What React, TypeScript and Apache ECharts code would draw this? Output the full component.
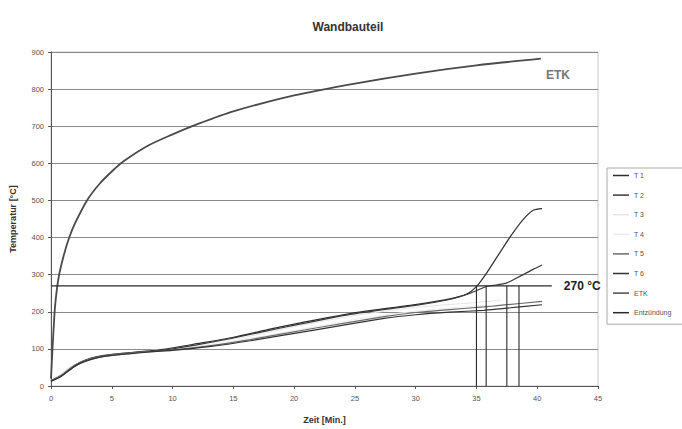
import React, { useEffect, useRef } from "react";
import * as echarts from "echarts";

const xTicks = [0, 5, 10, 15, 20, 25, 30, 35, 40, 45];
const yTicks = [0, 100, 200, 300, 400, 500, 600, 700, 800, 900];

const seriesNames = ["T 1", "T 2", "T 3", "T 4", "T 5", "T 6", "ETK", "Entzündung"];

const t1: number[][] = [
  [0, 14], [0.8, 27], [1.9, 54], [2.7, 68], [3.8, 79], [5.2, 86], [6.6, 90], [8.2, 95],
  [9.3, 99], [12, 114], [14.8, 130], [19, 160], [24.6, 195], [30.1, 220], [32.8, 235],
  [34.2, 248], [35, 268], [35.85, 305], [36.9, 358], [37.8, 403], [38.8, 447], [39.7, 474], [40.4, 478],
];
const t2: number[][] = [
  [0, 13], [0.8, 26], [1.9, 52], [2.7, 66], [3.8, 77], [5.2, 84], [6.6, 89], [8.2, 94],
  [9.3, 97], [12, 111], [14.8, 128], [19, 157], [24.6, 193], [30.1, 218], [32.8, 233],
  [34.5, 250], [35.8, 268], [36.4, 271], [37.5, 278], [38.6, 296], [39.7, 315], [40.4, 326],
];
const t3: number[][] = [
  [0, 15], [0.8, 32], [1.5, 50], [2.7, 70], [3.8, 80], [5.2, 87], [6.6, 91], [8.2, 96],
  [12, 112], [16, 132], [20, 160], [25, 190], [30, 212], [35, 225], [37, 232],
];
const t4: number[][] = [
  [0, 14], [1, 30], [2, 55], [3, 70], [4, 79], [5.2, 85], [7, 90], [9, 96],
  [13, 112], [17, 132], [21, 155], [26, 185], [31, 205], [36, 218],
];
const t5: number[][] = [
  [0, 14], [0.8, 28], [1.9, 55], [2.7, 68], [3.8, 78], [5.2, 85], [6.6, 89], [8.2, 93],
  [10, 97], [13, 108], [16.4, 125], [21.9, 157], [27.4, 187], [30, 198], [32.8, 206],
  [35.6, 213], [36.9, 217], [40.4, 228],
];
const t6: number[][] = [
  [0, 13], [0.8, 25], [1.9, 52], [2.7, 65], [3.8, 76], [5.2, 83], [6.6, 87], [8.2, 92],
  [10, 96], [13, 106], [16.4, 122], [21.9, 152], [27.4, 182], [30, 192], [32.8, 199],
  [35.6, 204], [36.9, 208], [40.4, 219],
];
const etk: number[][] = [
  [0, 20], [0.3, 200], [0.5, 265], [0.7, 305], [1.1, 358], [1.5, 400], [2, 440], [3, 502],
  [4, 545], [5, 578], [6, 606], [8, 648], [10, 678], [12, 705], [15, 740], [20, 783],
  [25, 815], [30, 842], [35, 864], [40.3, 882],
];
const ignitionLine: number[][] = [[0, 270], [41.2, 270]];
const ignitionTimes = [35.0, 35.8, 37.5, 38.5];
const ignitionTemp = 270;
const etkLabelPos = [41.7, 838];

const lineColors = ["#2e2e2e", "#3a3a3a", "#e4e4e4", "#ececec", "#6a6a6a", "#333333", "#4a4a4a", "#2a2a2a"];
const FONT = "Liberation Sans, Arial, sans-serif";

export default function App() {
  const ref = useRef<HTMLDivElement>(null);
  useEffect(() => {
    if (!ref.current) return;
    const chart = echarts.init(ref.current, null, { renderer: "svg" });
    const tData = [t1, t2, t3, t4, t5, t6];
    const series: any[] = tData.map((d, i) => ({
      name: seriesNames[i],
      type: "line",
      data: d,
      symbol: "none",
      smooth: 0.2,
      lineStyle: { color: lineColors[i], width: i === 2 || i === 3 ? 1 : 1.2 },
      itemStyle: { color: lineColors[i] },
      z: i === 2 || i === 3 ? 1 : 3,
    }));
    series.push({
      name: seriesNames[6],
      type: "line",
      data: etk,
      symbol: "none",
      smooth: 0.3,
      lineStyle: { color: lineColors[6], width: 1.8 },
      itemStyle: { color: lineColors[6] },
      markPoint: {
        symbol: "circle",
        symbolSize: 0,
        data: [{ coord: etkLabelPos, value: "ETK" }],
        label: {
          show: true,
          formatter: "ETK",
          color: "#777",
          fontWeight: "bold",
          fontSize: 12,
          fontFamily: FONT,
          position: "inside",
        },
      },
    });
    series.push({
      name: seriesNames[7],
      type: "line",
      data: ignitionLine,
      symbol: "none",
      lineStyle: { color: lineColors[7], width: 1.3 },
      itemStyle: { color: lineColors[7] },
      endLabel: {
        show: true,
        formatter: "270 °C",
        color: "#222",
        fontWeight: "bold",
        fontSize: 12,
        fontFamily: FONT,
        distance: 12,
      },
    });
    ignitionTimes.forEach((t) => {
      series.push({
        name: seriesNames[7],
        type: "line",
        data: [[t, ignitionTemp], [t, 0]],
        symbol: "none",
        lineStyle: { color: lineColors[7], width: 1.1 },
        itemStyle: { color: lineColors[7] },
      });
    });

    chart.setOption({
      animation: false,
      backgroundColor: "#fff",
      title: {
        text: "Wandbauteil",
        left: 343,
        textAlign: "center",
        top: 16,
        textStyle: { fontSize: 12, fontWeight: "bold", color: "#333", fontFamily: FONT },
      },
      grid: {
        left: 50,
        right: 84,
        top: 52,
        bottom: 37,
        show: true,
        borderColor: "#c8c8c8",
        borderWidth: 1,
      },
      legend: {
        orient: "vertical",
        left: 607,
        top: 168,
        data: seriesNames,
        itemWidth: 16,
        itemHeight: 1.5,
        icon: "rect",
        itemGap: 12.6,
        padding: [4, 30, 8, 6],
        borderColor: "#aaa",
        borderWidth: 1,
        textStyle: { fontSize: 7, color: "#555", fontFamily: FONT, padding: [0, 0, 0, 0] },
      },
      xAxis: {
        type: "value",
        min: xTicks[0],
        max: xTicks[xTicks.length - 1],
        interval: 5,
        name: "Zeit [Min.]",
        nameLocation: "middle",
        nameGap: 29,
        nameTextStyle: { fontSize: 9, fontWeight: "bold", color: "#333", fontFamily: FONT },
        axisLine: { lineStyle: { color: "#555" } },
        axisTick: { show: true, length: 3, lineStyle: { color: "#555" } },
        axisLabel: { fontSize: 7.5, color: "#555", fontFamily: FONT, margin: 8 },
        splitLine: { show: false },
      },
      yAxis: {
        type: "value",
        min: yTicks[0],
        max: yTicks[yTicks.length - 1],
        interval: 100,
        name: "Temperatur [°C]",
        nameLocation: "middle",
        nameGap: 34,
        nameTextStyle: { fontSize: 9, fontWeight: "bold", color: "#333", fontFamily: FONT },
        axisLine: { show: true, lineStyle: { color: "#555" } },
        axisTick: { show: true, length: 3, lineStyle: { color: "#555" } },
        axisLabel: { fontSize: 7.5, color: "#555", fontFamily: FONT, margin: 7 },
        splitLine: { show: true, lineStyle: { color: "#8a8a8a", width: 1 } },
      },
      series,
    });
    return () => chart.dispose();
  }, []);
  return (
    <div
      ref={ref}
      style={{ position: "fixed", left: 0, top: 0, width: 682, height: 429, background: "#fff" }}
    />
  );
}
